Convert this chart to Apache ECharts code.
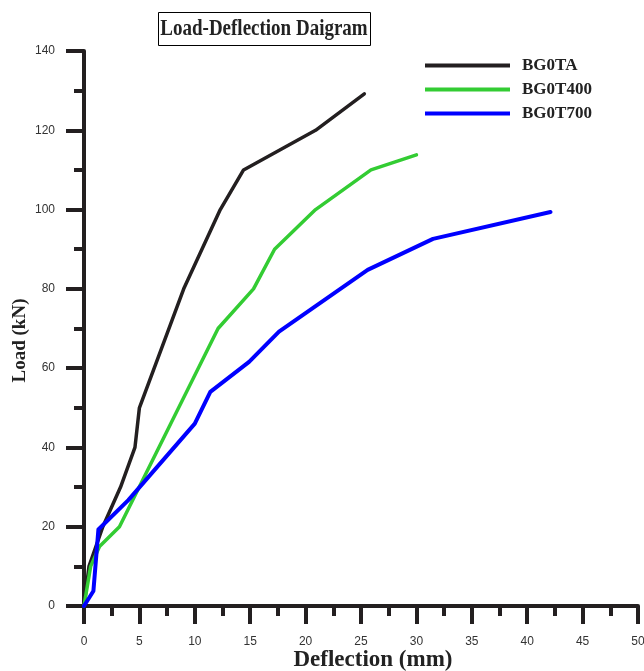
<!DOCTYPE html>
<html>
<head>
<meta charset="utf-8">
<script src="https://cdn.jsdelivr.net/npm/echarts@6/dist/echarts.min.js"></script>
<style>html,body{margin:0;padding:0;background:#fff;}#c{width:644px;height:671px;}</style>
</head>
<body>
<div id="c"></div>
<script>
const seriesNames = ['BG0TA', 'BG0T400', 'BG0T700'];
const xTicks = [0, 5, 10, 15, 20, 25, 30, 35, 40, 45, 50];
const yTicks = [0, 20, 40, 60, 80, 100, 120, 140];
const bg0ta = [[0,0],[0.45,10],[1.7,20],[3.3,30],[4.6,40],[5.0,50],[9.0,80],[12.3,100],[14.4,110],[20.9,120],[25.3,129.2]];
const bg0t400 = [[0,0],[0.6,10],[1.4,15],[3.2,20],[12.1,70],[15.3,80],[17.2,90],[20.9,100],[25.9,110],[30.0,113.8]];
const bg0t700 = [[0,0],[0.85,3.8],[1.3,19.3],[4.0,26.7],[10.0,46],[11.4,54],[14.9,61.6],[17.6,69.2],[25.6,84.8],[31.5,92.6],[42.1,99.4]];
const colors = ['#231f20', '#33cc33', '#0000ff'];
const dataSets = [bg0ta, bg0t400, bg0t700];

const chart = echarts.init(document.getElementById('c'), null, {renderer: 'canvas'});
const axisCommon = {
  axisLine: {show: true, lineStyle: {color: '#231f20', width: 4}},
  axisTick: {show: true, inside: false, length: 18, lineStyle: {color: '#231f20', width: 4}},
  minorTick: {show: true, splitNumber: 2, length: 10, lineStyle: {color: '#231f20', width: 4}},
  splitLine: {show: false},
  axisLabel: {color: '#333', fontSize: 12, fontFamily: 'Liberation Sans'}
};
chart.setOption({
  animation: false,
  backgroundColor: '#fff',
  graphic: [
    {type: 'rect', shape: {x: 158.5, y: 12.5, width: 212, height: 33}, style: {fill: '#fff', stroke: '#000', lineWidth: 1}},
    {type: 'text', x: 264, y: 29.5, scaleY: 1.2, style: {text: 'Load-Deflection Daigram', font: 'bold 19px "Liberation Serif"', fill: '#222', textAlign: 'center', textVerticalAlign: 'middle'}}
  ],
  legend: {
    orient: 'vertical', left: 425, top: 57, padding: 0, itemWidth: 85, itemHeight: 14, itemGap: 7,
    icon: 'path://M0,0 L85,0 L85,4 L0,4 Z',
    textStyle: {fontFamily: 'Liberation Serif', fontWeight: 'bold', fontSize: 17, color: '#222', padding: [0,0,0,7]},
    data: seriesNames
  },
  grid: {left: 84, right: 6, top: 51, bottom: 65, containLabel: false, outerBoundsMode: 'none'},
  xAxis: Object.assign({}, axisCommon, {
    type: 'value', min: xTicks[0], max: xTicks[xTicks.length-1], interval: 5,
    axisLabel: Object.assign({}, axisCommon.axisLabel, {margin: 30}),
    name: 'Deflection (mm)', nameLocation: 'middle', nameGap: 43, nameMoveOverlap: false,
    nameTextStyle: {fontFamily: 'Liberation Serif', fontWeight: 'bold', fontSize: 23, color: '#222', padding: [0,0,0,24]}
  }),
  yAxis: Object.assign({}, axisCommon, {
    type: 'value', min: yTicks[0], max: yTicks[yTicks.length-1], interval: 20,
    axisLabel: Object.assign({}, axisCommon.axisLabel, {margin: 29}),
    name: 'Load (kN)', nameLocation: 'middle', nameGap: 54, nameMoveOverlap: false,
    nameTextStyle: {fontFamily: 'Liberation Serif', fontWeight: 'bold', fontSize: 19, color: '#222', padding: [0,24,0,0]}
  }),
  series: seriesNames.map((n, i) => ({
    name: n, type: 'line', data: dataSets[i], symbol: 'none', smooth: false,
    color: colors[i],
    lineStyle: {color: colors[i], width: i === 2 ? 4 : 3.5, cap: 'round', join: 'round'},
    itemStyle: {color: colors[i]}
  }))
});
</script>
</body>
</html>
